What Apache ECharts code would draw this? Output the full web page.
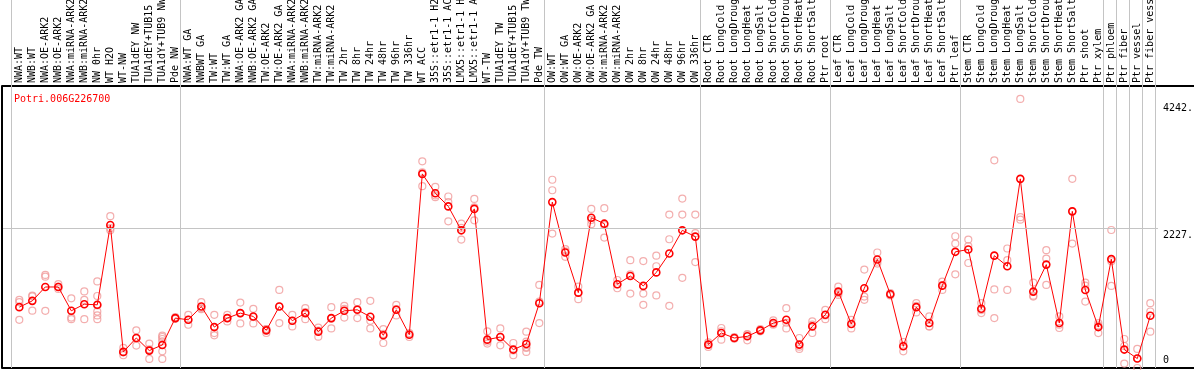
<!DOCTYPE html>
<html>
<head>
<meta charset="utf-8">
<script src="https://cdn.jsdelivr.net/npm/echarts@6/dist/echarts.min.js"></script>
<style>
html,body{margin:0;padding:0;background:#fff;}
#chart{width:1194px;height:370px;}
</style>
</head>
<body>
<div id="chart"></div>
<script>
const chartTitle = 'Potri.006G226700';

const categories = [
  'NWA:WT','NWB:WT','NWA:OE-ARK2','NWB:OE-ARK2','NWA:miRNA-ARK2','NWB:miRNA-ARK2','NW 0hr','WT H2O','WT-NW','TUA1dEY NW','TUA1dEY+TUB15','TUA1dY+TUB9 NW','Pde NW',
  'NWA:WT GA','NWBWT GA','TW:WT','TW:WT GA','NWA:OE-ARK2 GA','NWB:OE-ARK2 GA','TW:OE-ARK2','TW:OE-ARK2 GA','NWA:miRNA-ARK2','NWB:miRNA-ARK2','TW:miRNA-ARK2','TW:miRNA-ARK2','TW 2hr','TW 8hr','TW 24hr','TW 48hr','TW 96hr','TW 336hr','WT ACC','35S::etr1-1 H2O','35S::etr1-1 ACC','LMX5::etr1-1 H2O','LMX5::etr1-1 ACC','WT-TW','TUA1dEY TW','TUA1dEY+TUB15','TUA1dY+TUB9 TW','Pde TW',
  'OW:WT','OW:WT GA','OW:OE-ARK2','OW:OE-ARK2 GA','OW:miRNA-ARK2','OW:miRNA-ARK2','OW 2hr','OW 8hr','OW 24hr','OW 48hr','OW 96hr','OW 336hr',
  'Root CTR','Root LongCold','Root LongDrought','Root LongHeat','Root LongSalt','Root ShortCold','Root ShortDrought','Root ShortHeat','Root ShortSalt','Ptr root',
  'Leaf CTR','Leaf LongCold','Leaf LongDrought','Leaf LongHeat','Leaf LongSalt','Leaf ShortCold','Leaf ShortDrought','Leaf ShortHeat','Leaf ShortSalt','Ptr leaf',
  'Stem CTR','Stem LongCold','Stem LongDrought','Stem LongHeat','Stem LongSalt','Stem ShortCold','Stem ShortDrought','Stem ShortHeat','Stem ShortSalt','Ptr shoot','Ptr xylem',
  'Ptr phloem','Ptr fiber','Ptr vessel','Ptr fiber vessel'
];

const means = [
  968,1068,1289,1289,910,1015,1005,2275,256,477,277,367,794,
  767,978,651,794,873,820,599,978,752,873,578,794,910,926,815,520,926,530,3088,2781,2571,2190,2531,451,493,293,382,1031,
  2639,1838,1199,2391,2296,1333,1463,1306,1521,1822,2190,2090,
  372,557,477,504,599,715,767,372,662,846,
  1215,699,1269,1727,1174,345,968,715,1310,1848,
  1885,942,1787,1619,3009,1215,1645,715,2492,1242,651,
  1732,293,150,830
];

const replicates = [
  [1083,1047,767],[1150,1140,912],[1480,1452,910],[1333,1295,1258],[1109,802,776],[1218,1083,776],
  [1377,1145,994,899,836,776],[2415,2225,2190],[320,250,203],[599,476,356],[388,297,145],
  [514,493,461,424,266,145],[810,790,782],
  [846,767,688],[1047,952,935],[846,556,520],[846,794,741],[1041,870,709],[941,810,709],[620,620,557],
  [1242,978,715],[846,750,662],[952,890,776],[641,595,498],[968,784,630],[989,940,802],[1047,937,794],
  [1068,750,630],[620,542,398],[1005,936,836],[557,540,493],[3288,3114,2892],[2882,2745,2718],
  [2728,2638,2333],[2296,2230,2043],[2690,2555,2349],[583,420,388],[630,490,361],[398,280,203],
  [578,420,330,256,320],[1321,1057,715],
  [2995,2828,2138],[1890,1855,1768],[1295,1205,1095],[2531,2355,2288],[2542,2272,2074],[1400,1330,1269],
  [1716,1490,1184],[1701,1184,1005],[1787,1619,1155],[2440,2048,989],[2695,2441,1435],[2441,2145,1685],
  [408,372,335],[636,585,451],[490,477,465],[540,530,441],[620,600,583],[757,700,688],[952,720,630],
  [477,340,303],[741,690,557],[926,836,776],
  [1294,1190,1163],[767,700,630],[1566,1136,1084],[1837,1690,1661],[1190,1174,1155],[414,355,266],
  [1031,990,884],[820,662,662],[1373,1316,1242],[2096,1980,1490],
  [2043,1940,1670],[1031,922,873],[3304,1250,794],[1901,1715,1242],[4280,2400,2360],[1359,1150,1136],
  [1874,1740,1321],[820,690,636],[3009,2490,1980],[1359,1310,1057],[715,680,556],
  [2195,1700,1306],[461,350,71],[303,150,0],[1031,899,578]
];

const yTickValues = [0, 2227, 4242];
const yTickLabels = ['0', '2227.', '4242.'];
const gridLineValue = 2227;
const groupStarts = [0, 13, 41, 53, 63, 73, 84, 85, 86, 87, 88];

// ---- build options ----
const X_MIN = -1.331, X_MAX = 90.592, Y_MAX = 4486;
const SEP_OFFSET = -0.64;
const separators = groupStarts.map(g => g + SEP_OFFSET);
const catIdx = categories.map((_, i) => i);
const meanData = means.map((v, i) => [i, v]);
const repData = [];
replicates.forEach((arr, i) => arr.forEach(v => repData.push([i, v])));
const labelMap = {};
yTickValues.forEach((v, i) => labelMap[v] = yTickLabels[i]);

const FONT = 'DejaVu Sans Mono';
const GRAY = '#c4c4c4';

const chart = echarts.init(document.getElementById('chart'), null, {renderer: 'canvas'});
chart.setOption({
  animation: false,
  title: {
    text: chartTitle, left: 9, top: 89,
    textStyle: {color: '#ff0000', fontFamily: FONT, fontSize: 10, fontWeight: 'normal'}
  },
  grid: {left: 2, right: -3, top: 86, bottom: 2, containLabel: false, outerBoundsMode: 'none'},
  xAxis: [
    {
      type: 'value', position: 'top', min: X_MIN, max: X_MAX,
      axisLine: {show: true, onZero: false, lineStyle: {color: '#000', width: 2}},
      axisTick: {show: true, customValues: separators, length: 86, inside: false, lineStyle: {color: GRAY, width: 1}},
      axisLabel: {
        show: true, customValues: catIdx, rotate: -90, margin: 3,
        align: 'left', verticalAlign: 'middle',
        formatter: v => categories[Math.round(v)] || '',
        fontFamily: FONT, fontSize: 10, color: '#000'
      },
      splitLine: {show: false}
    },
    {
      type: 'value', position: 'bottom', min: X_MIN, max: X_MAX,
      axisLine: {show: true, onZero: false, lineStyle: {color: '#000', width: 2}},
      axisTick: {show: true, customValues: separators, length: 282, inside: true, lineStyle: {color: GRAY, width: 1}},
      axisLabel: {show: false},
      splitLine: {show: false}
    }
  ],
  yAxis: [
    {
      type: 'value', position: 'right', min: 0, max: Y_MAX,
      axisLine: {show: false}, axisTick: {show: false}, splitLine: {show: false},
      axisLabel: {
        show: true, inside: true, customValues: [yTickValues[1], yTickValues[2]],
        formatter: v => labelMap[v], align: 'left', verticalAlign: 'top', margin: 34,
        padding: [2, 0, 0, 0], fontFamily: FONT, fontSize: 10, color: '#000'
      }
    },
    {
      type: 'value', position: 'right', min: 0, max: Y_MAX,
      axisLine: {show: false}, axisTick: {show: false}, splitLine: {show: false},
      axisLabel: {
        show: true, inside: true, customValues: [yTickValues[0]], showMinLabel: true,
        formatter: v => labelMap[v], align: 'left', verticalAlign: 'bottom', margin: 34,
        padding: [0, 0, 3, 0], fontFamily: FONT, fontSize: 10, color: '#000'
      }
    }
  ],
  series: [
    {
      name: 'replicates', type: 'scatter', xAxisIndex: 0, yAxisIndex: 0,
      data: repData, symbol: 'circle', symbolSize: 7, clip: false,
      itemStyle: {color: 'rgba(0,0,0,0)', borderColor: '#f09a9a', borderWidth: 1.2},
      markLine: {
        silent: true, symbol: 'none', label: {show: false},
        lineStyle: {color: GRAY, width: 1, type: 'solid'},
        data: [
          [{coord: [X_MIN, gridLineValue]}, {coord: [87.59, gridLineValue]}],
          {xAxis: X_MIN, lineStyle: {color: '#000', width: 2}}
        ]
      },
      z: 2
    },
    {
      name: 'mean', type: 'line', xAxisIndex: 0, yAxisIndex: 0,
      data: meanData, symbol: 'circle', symbolSize: 7, showAllSymbol: true, clip: false,
      lineStyle: {color: '#ff0000', width: 1},
      itemStyle: {color: 'rgba(0,0,0,0)', borderColor: '#ff0000', borderWidth: 1.6},
      z: 3
    }
  ]
});
</script>
</body>
</html>
